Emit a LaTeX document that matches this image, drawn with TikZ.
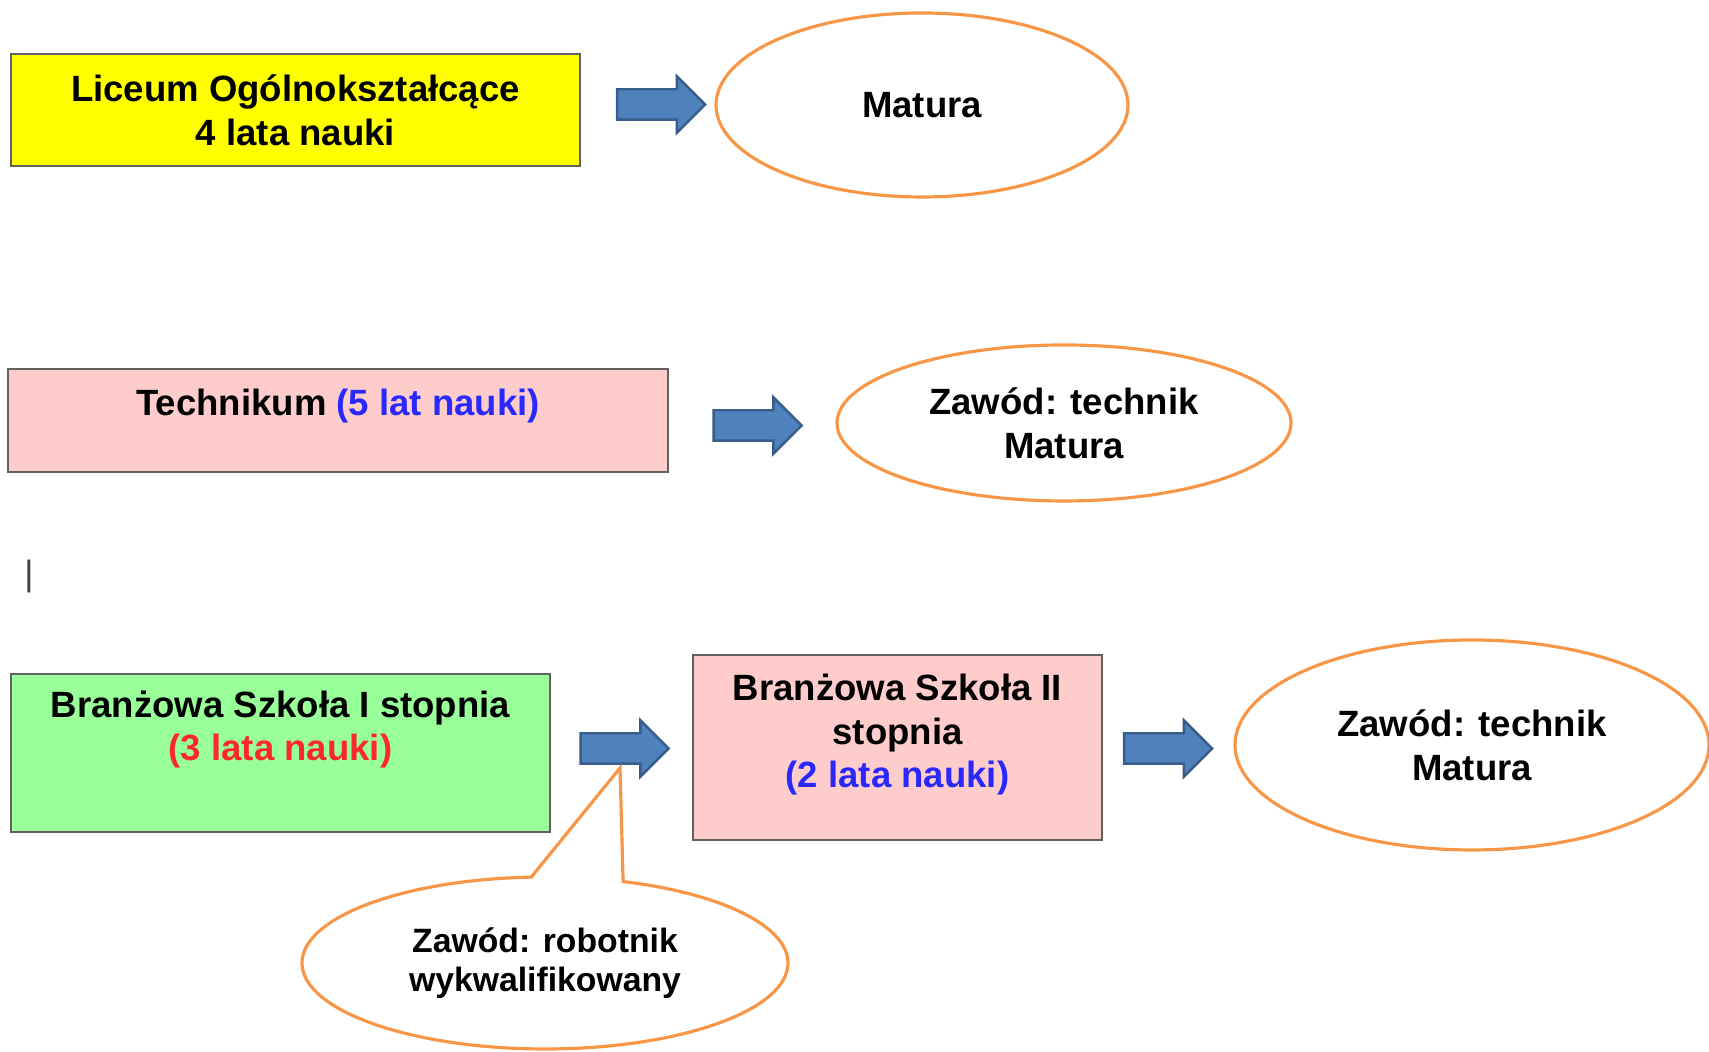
\documentclass[tikz,border=0pt]{standalone}
\usepackage{fontspec}
\setmainfont{Liberation Sans}
\usetikzlibrary{shapes.geometric,shapes.arrows,shapes.callouts}

\definecolor{boxyellow}{RGB}{255,255,0}
\definecolor{boxpink}{RGB}{255,204,204}
\definecolor{boxgreen}{RGB}{153,255,153}
\definecolor{edgegray}{RGB}{100,96,96}
\definecolor{ringorange}{RGB}{247,150,70}
\definecolor{arrowblue}{RGB}{79,129,189}
\definecolor{arrowedge}{RGB}{56,93,138}
\definecolor{txtblue}{RGB}{40,40,255}
\definecolor{txtred}{RGB}{255,40,40}

\begin{document}
\begin{tikzpicture}[
  font=\fontsize{10.4}{12.5}\selectfont\bfseries,
  school/.style={draw=edgegray, line width=0.8pt, inner sep=0pt, align=center},
  outcome/.style={ellipse, draw=ringorange, line width=0.9pt, inner sep=0pt, align=center},
  blockarrow/.style={single arrow, draw=arrowedge, fill=arrowblue, line width=0.7pt,
    inner sep=0.14cm, single arrow head extend=0.13cm, minimum height=0.88cm}
]
  \useasboundingbox (0,0) rectangle (17.09,10.52);

  % Liceum -> Matura
  \node[school, fill=boxyellow, minimum width=5.69cm, minimum height=1.12cm] (liceum) at (2.955,9.42) {Liceum Ogólnokształcące\\4 lata nauki};
  \node[blockarrow] (arrA) at (6.535,9.475) {};
  \node[outcome, minimum width=4.12cm, minimum height=1.84cm] (matura) at (9.22,9.47) {Matura};

  % Technikum -> technik + Matura
  \node[school, fill=boxpink, minimum width=6.60cm, text height=0.47cm, text depth=0.56cm] (technikum) at (3.38,6.315) {Technikum {\color{txtblue}(5 lat nauki)}};
  \node[blockarrow] (arrB) at (7.50,6.265) {};
  \node[outcome, minimum width=4.54cm, minimum height=1.56cm] (technik) at (10.64,6.29) {Zawód: technik\\Matura};

  % stray cursor mark
  \node[font=\fontsize{10}{11}\selectfont, text=black!75, inner sep=0pt] (kursor) at (0.29,4.755) {|};

  % Branżowa I -> Branżowa II -> technik + Matura
  \node[school, fill=boxgreen, minimum width=5.39cm, text height=0.87cm, text depth=0.71cm] (branzI) at (2.805,2.99) {Branżowa Szkoła I stopnia\\{\color{txtred}(3 lata nauki)}};
  \node[blockarrow] (arrC) at (6.17,3.035) {};
  \node[school, fill=boxpink, minimum width=4.09cm, text height=1.33cm, text depth=0.52cm] (branzII) at (8.975,3.045) {Branżowa Szkoła II\\stopnia\\{\color{txtblue}(2 lata nauki)}};
  \node[blockarrow] (arrD) at (11.605,3.035) {};
  \node[outcome, minimum width=4.74cm, minimum height=2.10cm] (technikII) at (14.72,3.07) {Zawód: technik\\Matura};

  % callout under the first arrow
  \coordinate (tip) at (6.20,2.84);
  \node[outcome, ellipse callout, callout absolute pointer={(tip)}, callout pointer arc=22,
    minimum width=4.86cm, minimum height=1.72cm, font=\fontsize{9.6}{11.2}\selectfont\bfseries] (robotnik) at (5.45,0.89) {Zawód: robotnik\\wykwalifikowany};
\end{tikzpicture}
\end{document}
